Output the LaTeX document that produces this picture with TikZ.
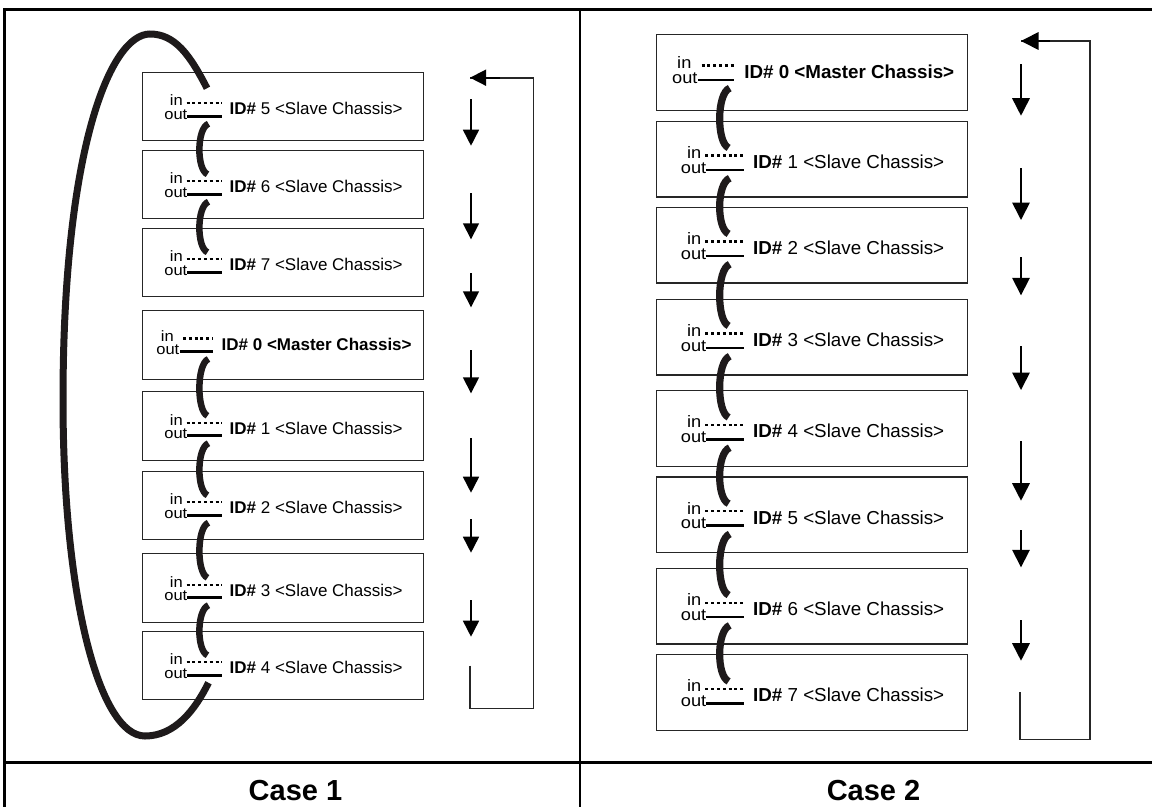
\documentclass[tikz,border=0pt]{standalone}
\usepackage{fontspec}
\usepackage{graphicx}
\setmainfont{Liberation Sans}
\usetikzlibrary{arrows.meta,calc}
\definecolor{cablecol}{RGB}{30,26,27}
\tikzset{
 chbox/.style={draw=black!85, line width=1.3pt, rectangle, minimum width=281.5pt, minimum height=68.5pt, inner sep=0pt, anchor=north west},
 iotext/.style={inner sep=0pt, font=\fontsize{15}{16}\selectfont, anchor=base east},
 idtext/.style={inner sep=0pt, font=\fontsize{17}{20}\selectfont, anchor=west},
 inwire/.style={line width=2.2pt, dash pattern=on 3pt off 2.8pt},
 outwire/.style={line width=2.6pt},
 cable/.style={draw=cablecol, line width=6.5pt},
 cabletwo/.style={draw=cablecol, line width=7.2pt},
 loopcable/.style={draw=cablecol, line width=7pt},
 flowarrow/.style={line width=1.6pt, -{Triangle[length=16pt,width=16pt]}},
 flowarrowtwo/.style={line width=1.7pt, -{Triangle[length=17.5pt,width=17.5pt]}},
 retline/.style={line width=1.6pt, draw=black!85},
 frameline/.style={line width=3pt},
 caselabel/.style={inner sep=0pt, font=\fontsize{29}{32}\selectfont\bfseries},
}
% slave unit: #1 name, #2 number
\newcommand\slaveunit[2]{%
  \node[chbox] (#1) at (0,0) {};
  \node[iotext] (#1-inl) at (41.5,34.2) {\scalebox{1.1}[1]{in}};
  \node[iotext] (#1-outl) at (46,47.6) {\scalebox{1.1}[1]{out}};
  \coordinate (#1-in) at (45,31.75); \coordinate (#1-inend) at (80,31.75);
  \coordinate (#1-out) at (45.5,44.75); \coordinate (#1-outend) at (80,44.75);
  \draw[inwire] (#1-in) -- (#1-inend);
  \draw[outwire] (#1-out) -- (#1-outend);
  \node[idtext] (#1-id) at (88,37.25) {\textbf{ID\#} #2 <Slave Chassis>};
  \coordinate (#1-ctop) at (67,52.25); \coordinate (#1-ctopc) at (55,56.75);
  \coordinate (#1-cbot) at (66,24.75); \coordinate (#1-cbotc) at (55,20.25);
  \coordinate (#1-loop) at (65.5,16.75);
}
% master unit: #1 name
\newcommand\masterunit[1]{%
  \node[chbox] (#1) at (0,0) {};
  \node[iotext] (#1-inl) at (32.5,31) {\scalebox{1.1}[1]{in}};
  \node[iotext] (#1-outl) at (38,44.4) {\scalebox{1.1}[1]{out}};
  \coordinate (#1-in) at (41.5,28.5); \coordinate (#1-inend) at (71,28.5);
  \coordinate (#1-out) at (38.5,41.5); \coordinate (#1-outend) at (71,41.5);
  \draw[inwire] (#1-in) -- (#1-inend);
  \draw[outwire] (#1-out) -- (#1-outend);
  \node[idtext] (#1-id) at (80,34) {\textbf{ID\# 0 <Master Chassis>}};
  \coordinate (#1-ctop) at (67,49); \coordinate (#1-ctopc) at (55,53.5);
  \coordinate (#1-cbot) at (66,21.5); \coordinate (#1-cbotc) at (55,17);
}
\begin{document}
\begin{tikzpicture}[x=1pt,y=-1pt]
\useasboundingbox (0,0) rectangle (1152,807);
% frame
\coordinate (fTL) at (4.7,9); \coordinate (fTR) at (1152,9);
\coordinate (fBL) at (4.7,807); \coordinate (fMT) at (580,9); \coordinate (fMB) at (580,807);
\coordinate (fHL) at (4.7,762.5); \coordinate (fHR) at (1152,762.5);
\draw[frameline] (fTR) -- (fTL) -- (fBL);
\draw[line width=2.5pt] (fMT) -- (fMB);
\draw[frameline] (fHL) -- (fHR);
\node[caselabel] (case1) at (295.5,790.5) {Case 1};
\node[caselabel] (case2) at (873.5,790.5) {Case 2};

% ---------------- Case 1 ----------------
\begin{scope}[shift={(141.5,71.5)}]\slaveunit{c1b5}{5}\end{scope}
\begin{scope}[shift={(141.5,149.5)}]\slaveunit{c1b6}{6}\end{scope}
\begin{scope}[shift={(141.5,227.5)}]\slaveunit{c1b7}{7}\end{scope}
\begin{scope}[shift={(141.5,310)}]\masterunit{c1b0}\end{scope}
\begin{scope}[shift={(141.5,391)}]\slaveunit{c1b1}{1}\end{scope}
\begin{scope}[shift={(141.5,470.5)}]\slaveunit{c1b2}{2}\end{scope}
\begin{scope}[shift={(141.5,553)}]\slaveunit{c1b3}{3}\end{scope}
\begin{scope}[shift={(141.5,630.5)}]\slaveunit{c1b4}{4}\end{scope}

\foreach \a/\b in {c1b5/c1b6, c1b6/c1b7, c1b0/c1b1, c1b1/c1b2, c1b2/c1b3, c1b3/c1b4}
  \draw[cable] (\a-ctop) .. controls (\a-ctopc) and (\b-cbotc) .. (\b-cbot);

% long loop cable from ID# 4 out back to ID# 5 in
\draw[loopcable] (c1b4-ctop) .. controls (195,710) and (175,736) .. (145,736)
  .. controls (100,736) and (63,600) .. (63,400)
  .. controls (63,150) and (110,34) .. (150,34)
  .. controls (175,34) and (190,55) .. (c1b5-loop);

% flow arrows case 1
\foreach \i/\s/\e in {1/99.3/145.7, 2/193.3/239.3, 3/273.3/307.3, 4/350/393.3, 5/438.3/492.7, 6/519.3/552.7, 7/600/636.7}{
  \coordinate (p\i s) at (471,\s); \coordinate (p\i e) at (471,\e);
  \draw[flowarrow] (p\i s) -- (p\i e);
}
\coordinate (r1a) at (470,665.7); \coordinate (r1b) at (470,708.3);
\coordinate (r1c) at (533.3,708.3); \coordinate (r1d) at (533.3,77.7);
\coordinate (r1e) at (470,77.7);
\draw[retline] (r1a) -- (r1b) -- (r1c) -- (r1d) -- (r1e);
\coordinate (r1f) at (500,77.7);
\draw[flowarrow] (r1f) -- (r1e);

% ---------------- Case 2 ----------------
\begin{scope}[shift={(655.7,34)}, scale=1.105, transform shape]\masterunit{c2b0}\end{scope}
\begin{scope}[shift={(655.7,120.5)}, scale=1.105, transform shape]\slaveunit{c2b1}{1}\end{scope}
\begin{scope}[shift={(655.7,206.5)}, scale=1.105, transform shape]\slaveunit{c2b2}{2}\end{scope}
\begin{scope}[shift={(655.7,298.5)}, scale=1.105, transform shape]\slaveunit{c2b3}{3}\end{scope}
\begin{scope}[shift={(655.7,390)}, scale=1.105, transform shape]\slaveunit{c2b4}{4}\end{scope}
\begin{scope}[shift={(655.7,476.3)}, scale=1.105, transform shape]\slaveunit{c2b5}{5}\end{scope}
\begin{scope}[shift={(655.7,567.7)}, scale=1.105, transform shape]\slaveunit{c2b6}{6}\end{scope}
\begin{scope}[shift={(655.7,654)}, scale=1.105, transform shape]\slaveunit{c2b7}{7}\end{scope}

\foreach \a/\b in {c2b0/c2b1, c2b1/c2b2, c2b2/c2b3, c2b3/c2b4, c2b4/c2b5, c2b5/c2b6, c2b6/c2b7}
  \draw[cabletwo] (\a-ctop) .. controls (\a-ctopc) and (\b-cbotc) .. (\b-cbot);

\foreach \i/\s/\e in {1/64.3/115.7, 2/168.3/220, 3/257.3/295.3, 4/346/390, 5/441/500.7, 6/530/567.3, 7/620/660.7}{
  \coordinate (q\i s) at (1021,\s); \coordinate (q\i e) at (1021,\e);
  \draw[flowarrowtwo] (q\i s) -- (q\i e);
}
\coordinate (r2a) at (1020,692.3); \coordinate (r2b) at (1020,739.3);
\coordinate (r2c) at (1090,739.3); \coordinate (r2d) at (1090,41);
\coordinate (r2e) at (1021,41);
\draw[retline] (r2a) -- (r2b) -- (r2c) -- (r2d) -- (r2e);
\coordinate (r2f) at (1050,41);
\draw[flowarrowtwo] (r2f) -- (r2e);
\end{tikzpicture}
\end{document}
